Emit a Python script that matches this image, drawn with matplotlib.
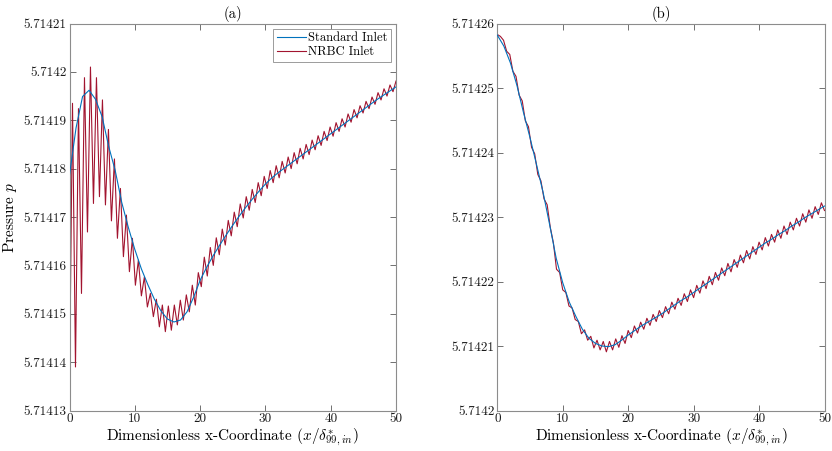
import numpy as np
import matplotlib.pyplot as plt

plt.rcParams['font.family'] = 'serif'
plt.rcParams['font.serif'] = ['cmr10', 'DejaVu Serif']
plt.rcParams['mathtext.fontset'] = 'cm'
plt.rcParams['axes.unicode_minus'] = False

# pressure values are given in units of 1e-6 above the panel base
base_a = 5.71413
base_b = 5.71420

# (a) standard inlet, x = 0, 1, ..., 50
std_a = [48.7, 58.4, 64.9, 66.2, 64.3, 60.7, 54.6, 49.6, 43.0, 37.9,
         33.3, 29.3, 26.0, 23.0, 20.6, 18.9, 18.3, 18.7, 20.4, 23.4,
         26.9, 29.6, 32.0, 34.2, 36.3, 38.3, 40.2, 42.0, 43.7, 45.3,
         46.8, 48.1, 49.2, 50.2, 51.2, 52.2, 53.2, 54.2, 55.2, 56.2,
         57.2, 58.2, 59.2, 60.2, 61.2, 62.2, 63.2, 64.2, 65.1, 66.0, 66.9]

# (a) NRBC inlet, 110 points evenly spread on 0..50
nrbc_a = [5.3, 63.5, 9.0, 62.4, 24.2, 68.8, 36.9, 71.0, 42.8, 68.8,
          44.2, 64.2, 42.5, 58.1, 39.2, 52.0, 35.6, 45.9, 31.8, 40.4,
          28.7, 35.6, 25.9, 31.1, 23.7, 27.6, 21.4, 24.2, 19.4, 23.0,
          17.3, 21.8, 16.3, 21.6, 16.6, 21.8, 17.7, 22.8, 18.7, 23.9,
          20.4, 25.9, 21.8, 28.5, 25.6, 31.7, 27.8, 33.7, 30.0, 35.7,
          32.2, 37.5, 34.2, 39.3, 36.1, 41.0, 38.0, 42.7, 39.8, 44.2,
          41.4, 45.7, 43.0, 47.1, 44.4, 48.4, 45.9, 49.6, 47.1, 50.6,
          48.1, 51.5, 49.1, 52.4, 50.0, 53.3, 51.0, 54.2, 52.0, 55.0,
          52.9, 55.9, 53.9, 56.8, 54.8, 57.7, 55.8, 58.6, 56.7, 59.5,
          57.7, 60.3, 58.6, 61.3, 59.6, 62.2, 60.5, 63.0, 61.5, 63.9,
          62.4, 64.8, 63.3, 65.7, 64.2, 66.5, 65.0, 67.3, 65.9, 68.1]

# (b) standard inlet, x = 0, 1, ..., 50
std_b = [58.2, 56.5, 53.9, 50.4, 46.2, 42.3, 38.1, 33.8, 28.8, 23.6,
         19.8, 16.8, 14.6, 12.6, 11.2, 10.4, 10.0, 9.9, 10.2, 10.9,
         11.7, 12.4, 13.1, 13.7, 14.3, 14.9, 15.6, 16.3, 17.0, 17.6,
         18.3, 19.0, 19.7, 20.4, 21.1, 21.8, 22.5, 23.2, 23.9, 24.6,
         25.3, 26.0, 26.6, 27.3, 27.9, 28.6, 29.2, 29.9, 30.5, 31.1, 31.7]

# (b) NRBC inlet, 106 points evenly spread on 0..50
nrbc_b = [58.3, 58.0, 57.4, 55.7, 55.2, 52.6, 51.8, 48.9, 48.0, 44.9,
          44.0, 40.8, 39.8, 36.6, 35.6, 32.8, 31.9, 28.4, 26.0, 21.9,
          21.4, 18.7, 18.3, 16.2, 15.9, 14.1, 13.8, 11.9, 12.5, 10.9,
          11.5, 9.7, 10.9, 9.4, 10.7, 9.1, 10.7, 9.4, 11.1, 9.8,
          11.6, 10.4, 12.4, 11.3, 13.1, 12.0, 13.7, 12.6, 14.3, 13.2,
          14.9, 13.8, 15.5, 14.4, 16.1, 15.0, 16.8, 15.7, 17.4, 16.3,
          18.1, 16.9, 18.7, 17.5, 19.4, 18.2, 20.1, 18.9, 20.8, 19.5,
          21.4, 20.2, 22.1, 20.9, 22.8, 21.5, 23.4, 22.2, 24.1, 22.9,
          24.8, 23.5, 25.4, 24.2, 26.1, 24.9, 26.8, 25.5, 27.3, 26.1,
          28.0, 26.7, 28.6, 27.3, 29.2, 28.0, 29.8, 28.6, 30.5, 29.2,
          31.1, 29.8, 31.6, 30.4, 32.2, 31.0]

yticks_a = ['5.71413', '5.71414', '5.71415', '5.71416', '5.71417',
            '5.71418', '5.71419', '5.7142', '5.71421']
yticks_b = ['5.7142', '5.71421', '5.71422', '5.71423', '5.71424',
            '5.71425', '5.71426']
xticks = [0, 10, 20, 30, 40, 50]

blue = '#0072BD'
red = '#A2142F'
xlabel = r'Dimensionless x-Coordinate $(x/\delta^{*}_{99,in})$'


def setup(ax, base, labels, title):
    n = len(labels)
    ax.set_xlim(0, 50)
    ax.set_ylim(base, base + (n - 1) * 1e-5)
    ax.set_xticks(xticks)
    ax.set_xticklabels([str(t) for t in xticks])
    ax.set_yticks([base + k * 1e-5 for k in range(n)])
    ax.set_yticklabels(labels)
    ax.tick_params(direction='in', top=True, right=True, length=4,
                   width=0.6, color='0.35', labelsize=9.5, pad=2,
                   labelcolor='0.1')
    for s in ax.spines.values():
        s.set_color('0.55')
        s.set_linewidth(0.8)
    ax.set_title(title, fontsize=10.5, pad=4)
    ax.set_xlabel(xlabel, fontsize=11, labelpad=1)


fig = plt.figure(figsize=(8.32, 4.51), dpi=100)
ax1 = fig.add_axes([69.5 / 832, 40.5 / 451, 326.5 / 832, 387 / 451])
ax2 = fig.add_axes([497.3 / 832, 40.5 / 451, 327.2 / 832, 387 / 451])

xs_a = np.arange(len(std_a))
xn_a = np.linspace(0, 50, len(nrbc_a))
l1, = ax1.plot(xs_a, base_a + 1e-6 * np.array(std_a), color=blue, lw=0.8,
               zorder=3, label='Standard Inlet')
l2, = ax1.plot(xn_a, base_a + 1e-6 * np.array(nrbc_a), color=red, lw=0.8,
               zorder=2, label='NRBC Inlet')
setup(ax1, base_a, yticks_a, '(a)')
ax1.set_ylabel(r'Pressure $p$', fontsize=11, labelpad=3)
leg = ax1.legend(handles=[l1, l2], loc='upper right', fontsize=9,
                 fancybox=False, edgecolor='0.55', framealpha=1,
                 borderaxespad=0.4, borderpad=0.3, labelspacing=0.15,
                 handlelength=2.3, handletextpad=0.15)
leg.get_frame().set_linewidth(0.6)

xs_b = np.arange(len(std_b))
xn_b = np.linspace(0, 50, len(nrbc_b))
ax2.plot(xs_b, base_b + 1e-6 * np.array(std_b), color=blue, lw=0.8, zorder=3)
ax2.plot(xn_b, base_b + 1e-6 * np.array(nrbc_b), color=red, lw=0.8, zorder=2)
setup(ax2, base_b, yticks_b, '(b)')

fig.savefig('out.png', dpi=100)
